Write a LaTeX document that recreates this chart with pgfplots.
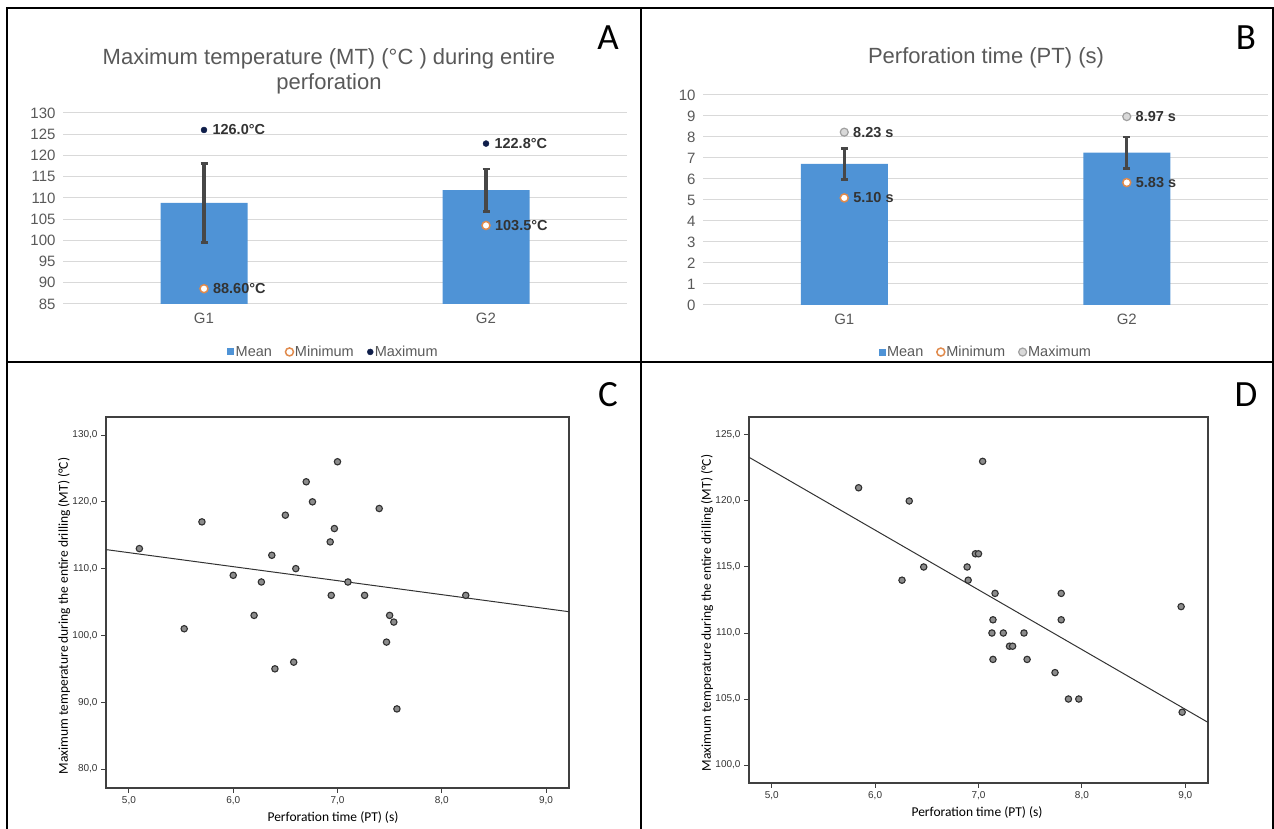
\documentclass[border=0pt]{standalone}
\usepackage{fontspec}
\setmainfont{Liberation Sans}
\newfontfamily\carlito{Carlito}
\usepackage{pgfplots}
\pgfplotsset{compat=1.18}

\definecolor{barblue}{HTML}{4F93D6}
\definecolor{navy}{HTML}{0F1E4A}
\definecolor{minorange}{HTML}{E08A4C}
\definecolor{maxgrayfill}{HTML}{D9D9D9}
\definecolor{maxgraydraw}{HTML}{A0A0A0}
\definecolor{txtgray}{HTML}{595959}
\definecolor{lbldark}{HTML}{333333}
\definecolor{errgray}{HTML}{474747}
\definecolor{gridgray}{HTML}{D9D9D9}
\definecolor{dotfill}{HTML}{8C8C8C}
\definecolor{dotdraw}{HTML}{303030}

\pgfplotsset{
  barpanel/.style={
    scale only axis, anchor=south west,
    axis line style={draw=none},
    major tick length=0pt,
    ymajorgrids, grid style={gridgray, line width=1pt},
    xmin=-0.5, xmax=1.5,
    xtick={0,1}, xticklabels={G1,G2},
    tick label style={font=\fontsize{15}{17}\selectfont, text=txtgray},
    yticklabel style={xshift=-4pt},
    xticklabel style={yshift=-6pt},
    legend style={draw=none, fill=none, legend columns=3, anchor=center,
      font=\fontsize{14.5}{16}\selectfont, text=txtgray,
      nodes={inner xsep=1.5pt},
      /tikz/every even column/.append style={column sep=12pt}},
    every node near coord/.append style={anchor=west, xshift=5pt,
      font=\fontsize{14.5}{16}\selectfont\bfseries, text=lbldark},
    /pgf/number format/assume math mode=true,
  },
  markleg/.style={legend image code/.code={\draw[##1] plot coordinates {(3.5pt,0pt)};}},
  meanbar/.style={ybar, bar width=87pt, fill=barblue, draw=none,
    legend image code/.code={\fill[barblue] (0pt,-3.5pt) rectangle (7pt,3.5pt);},
    error bars/.cd, y dir=both, y explicit,
    error bar style={line width=3.3pt, draw=errgray},
    error mark options={rotate=90, mark size=3.5pt, line width=2.5pt, draw=errgray}},
  minpt/.style={only marks, mark=*, mark size=4pt, markleg,
    mark options={fill=white, draw=minorange, line width=1.5pt},
    nodes near coords, point meta=explicit symbolic},
  scatterpanel/.style={
    scale only axis, anchor=south west,
    axis line style={draw=black!75, line width=1.2pt},
    tick align=outside, tick pos=left, major tick length=5pt,
    tick style={draw=black!75, line width=1pt},
    tick label style={font=\fontsize{10}{12}\selectfont, text=black!80},
    xmin=4.78, xmax=9.22, xtick={5,6,7,8,9},
    /pgf/number format/.cd, fixed, fixed zerofill, precision=1, use comma,
    assume math mode=true},
  dots/.style={only marks, mark=*, mark size=3.2pt,
    mark options={fill=dotfill, draw=dotdraw, line width=1.1pt}},
}

\begin{document}
\begin{tikzpicture}[x=1pt,y=1pt]
\useasboundingbox (0,0) rectangle (1274,829);

% panel frames
\draw[line width=2pt] (7,0) -- (7,821) -- (1273,821) -- (1273,0);
\draw[line width=2pt] (641,0) -- (641,821);
\draw[line width=2pt] (7,467) -- (1273,467);

% ---------- A ----------
\begin{axis}[barpanel, at={(63pt,525pt)}, width=564pt, height=191pt,
  ymin=85, ymax=130, ytick={85,90,...,130},
  legend style={at={(0.479,-0.251)}}]
\addplot[meanbar] coordinates {(0,108.8) +- (0,9.3) (1,111.8) +- (0,5.0)};
\addlegendentry{Mean}
\addplot[minpt] coordinates {(0,88.6) [88.60°C] (1,103.5) [103.5°C]};
\addlegendentry{Minimum}
\addplot[only marks, mark=*, mark size=3pt, markleg,
  mark options={fill=navy, draw=navy},
  nodes near coords, point meta=explicit symbolic]
  coordinates {(0,126.0) [126.0°C] (1,122.8) [122.8°C]};
\addlegendentry{Maximum}
\end{axis}
\node[align=center, text=txtgray, font=\fontsize{22}{25}\selectfont]
  at (329,758) {Maximum temperature (MT) (°C ) during entire\\perforation};
\node[font=\carlito\fontsize{37}{40}\selectfont] at (608,791) {A};

% ---------- B ----------
\begin{axis}[barpanel, at={(703pt,524pt)}, width=565pt, height=210pt,
  ymin=0, ymax=10, ytick={0,1,...,10},
  legend style={at={(0.50,-0.224)}}]
\addplot[meanbar] coordinates {(0,6.72) +- (0,0.74) (1,7.25) +- (0,0.74)};
\addlegendentry{Mean}
\addplot[minpt] coordinates {(0,5.10) [5.10 s] (1,5.83) [5.83 s]};
\addlegendentry{Minimum}
\addplot[only marks, mark=*, mark size=4pt, markleg,
  mark options={fill=maxgrayfill, draw=maxgraydraw, line width=1.2pt},
  nodes near coords, point meta=explicit symbolic]
  coordinates {(0,8.23) [8.23 s] (1,8.97) [8.97 s]};
\addlegendentry{Maximum}
\end{axis}
\node[text=txtgray, font=\fontsize{22}{25}\selectfont] at (986,771) {Perforation time (PT) (s)};
\node[font=\carlito\fontsize{37}{40}\selectfont] at (1246,791) {B};

% ---------- C ----------
\begin{axis}[scatterpanel, at={(106pt,41pt)}, width=463pt, height=371pt,
  ymin=77.16, ymax=132.7, ytick={80,90,...,130}]
\addplot[black!80, line width=1pt] coordinates {(4.78,112.85) (9.22,103.55)};
\addplot[dots] coordinates {
  (5.10,113) (5.53,101) (5.70,117) (6.00,109) (6.20,103)
  (6.27,108) (6.37,112) (6.40,95) (6.50,118) (6.58,96)
  (6.60,110) (6.70,123) (6.76,120) (6.93,114) (6.94,106)
  (6.97,116) (7.00,126) (7.10,108) (7.26,106) (7.40,119)
  (7.47,99) (7.50,103) (7.54,102) (7.57,89) (8.23,106)
};
\end{axis}
\node[rotate=90, font=\carlito\fontsize{13.5}{15}\selectfont] at (64,213)
  {Maximum temperature during the entire drilling (MT) (°C)};
\node[font=\carlito\fontsize{13.5}{15}\selectfont] at (333,11) {Perforation time (PT) (s)};
\node[font=\carlito\fontsize{37}{40}\selectfont] at (608,434) {C};

% ---------- D ----------
\begin{axis}[scatterpanel, at={(749pt,46pt)}, width=459pt, height=366pt,
  ymin=98.64, ymax=126.36, ytick={100,105,...,125}]
\addplot[black!80, line width=1pt] coordinates {(4.78,123.31) (9.22,103.23)};
\addplot[dots] coordinates {
  (5.84,121) (6.33,120) (6.26,114) (6.47,115) (6.89,115)
  (6.90,114) (6.97,116) (7.00,116) (7.04,123) (7.16,113)
  (7.14,111) (7.13,110) (7.14,108) (7.24,110) (7.30,109)
  (7.33,109) (7.44,110) (7.47,108) (7.74,107) (7.80,113)
  (7.80,111) (7.87,105) (7.97,105) (8.96,112) (8.97,104)
};
\end{axis}
\node[rotate=90, font=\carlito\fontsize{13.5}{15}\selectfont] at (707,216)
  {Maximum temperature during the entire drilling (MT) (°C)};
\node[font=\carlito\fontsize{13.5}{15}\selectfont] at (977,16) {Perforation time (PT) (s)};
\node[font=\carlito\fontsize{37}{40}\selectfont] at (1246,434) {D};
\end{tikzpicture}
\end{document}
